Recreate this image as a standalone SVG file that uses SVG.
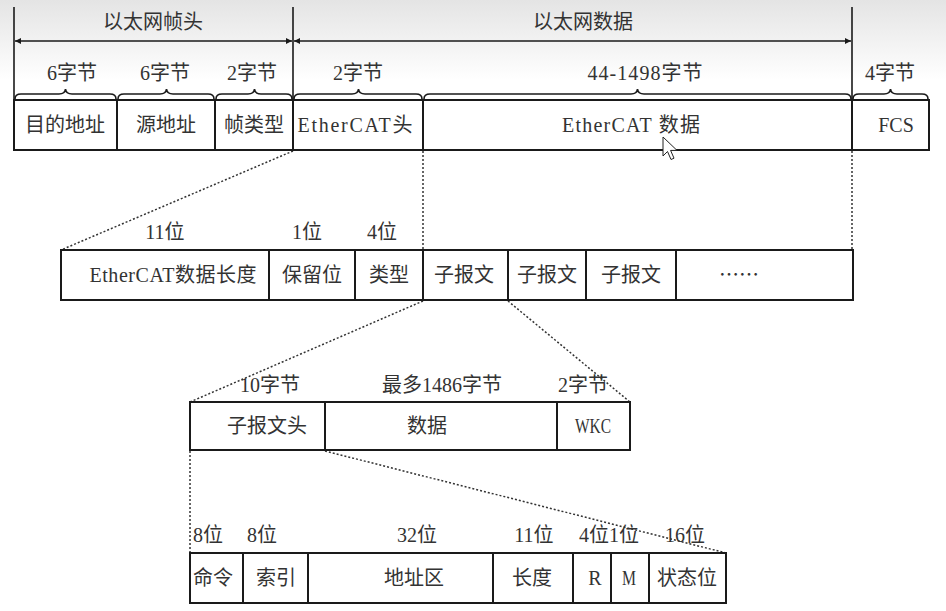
<svg xmlns="http://www.w3.org/2000/svg" width="946" height="611" viewBox="0 0 946 611">
<defs>
<linearGradient id="bg" x1="0" y1="0" x2="0" y2="1">
<stop offset="0" stop-color="#e4e4e4"/>
<stop offset="1" stop-color="#ffffff"/>
</linearGradient>
<marker id="ah" viewBox="0 0 10 10" refX="10" refY="5" markerWidth="8" markerHeight="6" markerUnits="userSpaceOnUse" orient="auto-start-reverse">
<path d="M0,0 L10,5 L0,10 z" fill="#1a1a1a"/>
</marker>
<style>
.cell{fill:#fff;stroke:#1a1a1a;stroke-width:2}
.t{font-family:"Liberation Serif","Noto Sans CJK SC",serif;font-size:20px;fill:#333;text-anchor:middle}
.line{stroke:#1a1a1a;stroke-width:1.6;fill:none}
.dot{stroke:#333;stroke-width:1.5;stroke-dasharray:2 2;fill:none}
.brace{stroke:#1a1a1a;stroke-width:1.6;fill:none}
</style>
</defs>
<rect x="0" y="0" width="946" height="80" fill="url(#bg)"/>
<rect x="0" y="80" width="946" height="531" fill="#fff"/>

<g id="connectors">
<line class="line" x1="14" y1="7" x2="14" y2="100"/>
<line class="line" x1="293" y1="7" x2="293" y2="100"/>
<line class="line" x1="852" y1="7" x2="852" y2="100"/>
<line class="line" x1="15" y1="41" x2="292" y2="41" marker-start="url(#ah)" marker-end="url(#ah)"/>
<line class="line" x1="294" y1="41" x2="851" y2="41" marker-start="url(#ah)" marker-end="url(#ah)"/>
<path class="brace" d="M15,99 Q15,94 21,94 L59,94 Q65,94 65.5,89 Q66,94 72,94 L110,94 Q116,94 116,99"/>
<path class="brace" d="M118,99 Q118,94 124,94 L160,94 Q166,94 166.5,89 Q167,94 173,94 L208,94 Q214,94 214,99"/>
<path class="brace" d="M216,99 Q216,94 222,94 L248,94 Q254,94 254.5,89 Q255,94 261,94 L286,94 Q292,94 292,99"/>
<path class="brace" d="M294,99 Q294,94 300,94 L352,94 Q358,94 358.5,89 Q359,94 365,94 L416,94 Q422,94 422,99"/>
<path class="brace" d="M424,99 Q424,94 430,94 L631,94 Q637,94 637.5,89 Q638,94 644,94 L845,94 Q851,94 851,99"/>
<path class="brace" d="M853,99 Q853,94 859,94 L884,94 Q890,94 890.5,89 Q891,94 897,94 L922,94 Q928,94 928,99"/>
<line class="dot" x1="293" y1="151" x2="61" y2="250"/>
<line class="dot" x1="423" y1="151" x2="423" y2="250"/>
<line class="dot" x1="852" y1="151" x2="852" y2="250"/>
<line class="dot" x1="423" y1="301" x2="190" y2="402"/>
<line class="dot" x1="508" y1="301" x2="630" y2="402"/>
<line class="dot" x1="190" y1="451" x2="190" y2="553"/>
<line class="dot" x1="325" y1="451" x2="726" y2="553"/>
</g>

<g id="header-labels">
<text class="t" x="153" y="29">以太网帧头</text>
<text class="t" x="583" y="29">以太网数据</text>
<text class="t" x="72" y="80">6字节</text>
<text class="t" x="165" y="80">6字节</text>
<text class="t" x="252" y="80">2字节</text>
<text class="t" x="358" y="80">2字节</text>
<text class="t" x="645" y="80" textLength="115">44-1498字节</text>
<text class="t" x="890" y="80">4字节</text>
</g>

<g id="row1">
<g id="dst"><rect class="cell" x="14" y="100" width="103" height="50"/><text class="t" x="65" y="132">目的地址</text></g>
<g id="src"><rect class="cell" x="117" y="100" width="98" height="50"/><text class="t" x="166" y="132">源地址</text></g>
<g id="ftype"><rect class="cell" x="215" y="100" width="78" height="50"/><text class="t" x="254" y="132">帧类型</text></g>
<g id="ecathead"><rect class="cell" x="293" y="100" width="130" height="50"/><text class="t" x="355" y="132" textLength="115">EtherCAT头</text></g>
<g id="ecatdata"><rect class="cell" x="423" y="100" width="429" height="50"/><text class="t" x="631" y="132" textLength="138">EtherCAT 数据</text></g>
<g id="fcs"><rect class="cell" x="852" y="100" width="77" height="50"/><text class="t" x="896" y="132">FCS</text></g>
</g>

<g id="row2-labels">
<text class="t" x="165" y="239">11位</text>
<text class="t" x="307" y="239">1位</text>
<text class="t" x="382" y="239">4位</text>
</g>
<g id="row2">
<g id="len"><rect class="cell" x="61" y="250" width="208" height="50"/><text class="t" x="173" y="282" textLength="167">EtherCAT数据长度</text></g>
<g id="res"><rect class="cell" x="269" y="250" width="86" height="50"/><text class="t" x="312" y="282">保留位</text></g>
<g id="type"><rect class="cell" x="355" y="250" width="68" height="50"/><text class="t" x="389" y="282">类型</text></g>
<g id="sub1"><rect class="cell" x="423" y="250" width="85" height="50"/><text class="t" x="464" y="282">子报文</text></g>
<g id="sub2"><rect class="cell" x="508" y="250" width="78" height="50"/><text class="t" x="547" y="282">子报文</text></g>
<g id="sub3"><rect class="cell" x="586" y="250" width="90" height="50"/><text class="t" x="631" y="282">子报文</text></g>
<g id="more"><rect class="cell" x="676" y="250" width="177" height="50"/><text class="t" x="739" y="282" style="font-family:'Noto Sans CJK SC',sans-serif">……</text></g>
</g>

<g id="row3-labels">
<text class="t" x="270" y="392">10字节</text>
<text class="t" x="442" y="392">最多1486字节</text>
<text class="t" x="583" y="392">2字节</text>
</g>
<g id="row3">
<g id="subhead"><rect class="cell" x="190" y="402" width="135" height="48"/><text class="t" x="267" y="433">子报文头</text></g>
<g id="subdata"><rect class="cell" x="325" y="402" width="232" height="48"/><text class="t" x="427" y="433">数据</text></g>
<g id="wkc"><rect class="cell" x="557" y="402" width="73" height="48"/><text class="t" x="593" y="433" textLength="36" lengthAdjust="spacingAndGlyphs">WKC</text></g>
</g>

<g id="row4-labels">
<text class="t" x="208" y="542">8位</text>
<text class="t" x="262" y="542">8位</text>
<text class="t" x="417" y="542">32位</text>
<text class="t" x="534" y="542">11位</text>
<text class="t" x="594" y="542">4位</text>
<text class="t" x="624" y="542">1位</text>
<text class="t" x="685" y="542">16位</text>
</g>
<g id="row4">
<g id="cmd"><rect class="cell" x="190" y="553" width="53" height="50"/><text class="t" x="213" y="585">命令</text></g>
<g id="idx"><rect class="cell" x="243" y="553" width="65" height="50"/><text class="t" x="276" y="585">索引</text></g>
<g id="addr"><rect class="cell" x="308" y="553" width="185" height="50"/><text class="t" x="414" y="585">地址区</text></g>
<g id="dlen"><rect class="cell" x="493" y="553" width="80" height="50"/><text class="t" x="532" y="585">长度</text></g>
<g id="r"><rect class="cell" x="573" y="553" width="38" height="50"/><text class="t" x="595" y="585">R</text></g>
<g id="m"><rect class="cell" x="611" y="553" width="38" height="50"/><text class="t" x="629" y="585" textLength="14" lengthAdjust="spacingAndGlyphs">M</text></g>
<g id="status"><rect class="cell" x="649" y="553" width="77" height="50"/><text class="t" x="687" y="585">状态位</text></g>
</g>

<path d="M663,137 L663,156 L667.5,151.5 L671,159.5 L674,158.2 L670.6,150.4 L677,150.4 Z" fill="#fff" stroke="#222" stroke-width="1"/>
</svg>
